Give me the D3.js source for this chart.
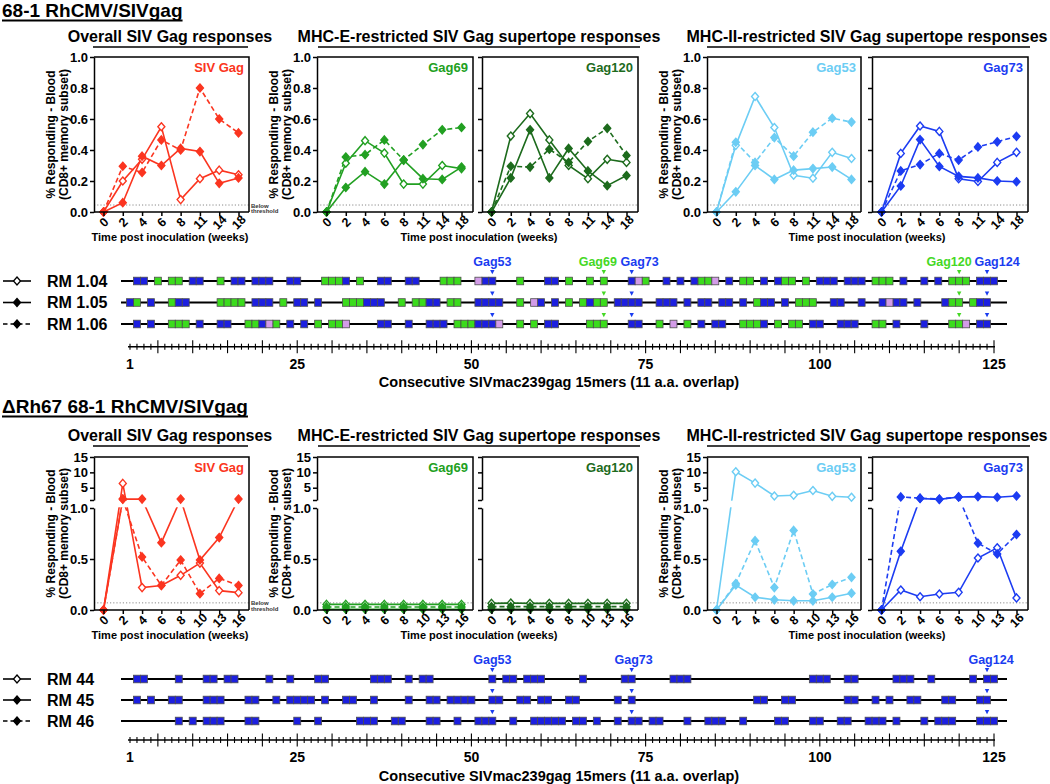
<!DOCTYPE html>
<html>
<head>
<meta charset="utf-8">
<script src="https://cdn.jsdelivr.net/npm/d3@7"></script>
<style>
html,body{margin:0;padding:0;background:#fff;}
svg{display:block;}
svg text{font-family:"Liberation Sans",Arial,Helvetica,sans-serif;font-weight:bold;}
</style>
</head>
<body>
<svg id="chart" width="1050" height="784"></svg>
<script>
// ================= DATA =================
const weeksTop = ["0","2","4","6","8","11","14","18"];
const weeksBottom = ["0","2","4","6","8","10","13","16"];
const animalsTop = ["RM 1.04","RM 1.05","RM 1.06"];
const animalsBottom = ["RM 44","RM 45","RM 46"];
const topYTicks = [0,0.2,0.4,0.6,0.8,1.0];
const bottomYTicksLow = [0,0.5,1.0];
const bottomYTicksHigh = [1,5,10,15];
const peptideLabels = [1,25,50,75,100,125];

// 68-1 RhCMV/SIVgag : RM 1.04 (open), RM 1.05 (filled), RM 1.06 (filled, dashed)
const topSIVGag_RM104 = [0,0.20,0.34,0.55,0.08,0.215,0.27,0.24];
const topSIVGag_RM105 = [0,0.06,0.36,0.30,0.41,0.39,0.185,0.22];
const topSIVGag_RM106 = [0,0.295,0.255,0.465,0.40,0.80,0.60,0.51];
const topGag69_RM104 = [0,0.315,0.46,0.38,0.18,0.18,0.30,0.28];
const topGag69_RM105 = [0,0.158,0.26,0.18,0.335,0.215,0.21,0.29];
const topGag69_RM106 = [0,0.355,0.37,0.465,0.335,0.435,0.53,0.545];
const topGag120_RM104 = [0,0.49,0.635,0.465,0.30,0.215,0.34,0.32];
const topGag120_RM105 = [0,0.22,0.53,0.22,0.41,0.265,0.17,0.235];
const topGag120_RM106 = [0,0.295,0.29,0.405,0.32,0.455,0.54,0.365];
const topGag53_RM104 = [0,0.43,0.745,0.545,0.237,0.218,0.385,0.345];
const topGag53_RM105 = [0,0.13,0.30,0.21,0.27,0.28,0.29,0.21];
const topGag53_RM106 = [0,0.45,0.32,0.48,0.36,0.515,0.605,0.58];
const topGag73_RM104 = [0,0.378,0.555,0.52,0.215,0.197,0.32,0.385];
const topGag73_RM105 = [0,0.168,0.467,0.294,0.23,0.22,0.20,0.195];
const topGag73_RM106 = [0,0.265,0.306,0.378,0.335,0.42,0.453,0.488];

// ΔRh67 68-1 RhCMV/SIVgag : RM 44 (open), RM 45 (filled), RM 46 (filled, dashed)
const botSIVGag_RM44 = [0,6.4,0.22,0.24,0.34,0.46,0.19,0.17];
const botSIVGag_RM45 = [0,1.3,1.3,0.66,1.3,0.49,0.71,1.3];
const botSIVGag_RM46 = [0,1.3,0.52,0.24,0.49,0.16,0.31,0.24];
const botGag69_RM44 = [0.055,0.055,0.055,0.055,0.055,0.055,0.055,0.055];
const botGag69_RM45 = [0.008,0.008,0.008,0.008,0.008,0.008,0.008,0.008];
const botGag69_RM46 = [0.03,0.03,0.03,0.03,0.03,0.03,0.03,0.03];
const botGag120_RM44 = [0.065,0.068,0.065,0.065,0.065,0.065,0.065,0.065];
const botGag120_RM45 = [0.008,0.008,0.008,0.008,0.008,0.008,0.008,0.008];
const botGag120_RM46 = [0.033,0.033,0.033,0.033,0.033,0.033,0.033,0.033];
const botGag53_RM44 = [0,10.2,6.5,2.3,2.55,4.1,2.2,1.9];
const botGag53_RM45 = [0,0.245,0.125,0.10,0.09,0.09,0.125,0.165];
const botGag53_RM46 = [0,0.26,0.68,0.22,0.78,0.157,0.25,0.32];
const botGag73_RM44 = [0,0.196,0.13,0.157,0.173,0.51,0.61,0.118];
const botGag73_RM45 = [0,0.575,1.5,1.2,2.0,2.1,1.9,2.3];
const botGag73_RM46 = [0,2.0,1.6,1.3,2.0,0.655,0.55,0.74];

// peptide maps (positive 15mer peptide numbers)
const mapTop_RM104_green = [5,7,8,14,29,30,31,34,46,47,48,57,64,67,69,75,83,84,89,90,95,96,98,108,109,110,119,120,121];
const mapTop_RM104_blue  = [2,3,10,11,16,17,19,20,21,24,25,32,37,38,41,42,52,53,61,62,73,78,80,82,87,92,94,100,101,102,104,105,106,112,115,117,123,124,125];
const mapTop_RM104_lilac = [51,74,85];
const mapTop_RM105_green = [2,7,14,15,16,17,23,32,33,34,40,42,43,47,48,57,64,66,68,69,91,97,98,99,119,120,122];
const mapTop_RM105_blue  = [1,4,8,9,19,20,21,25,26,28,35,36,37,44,45,51,52,53,54,60,62,67,71,72,73,74,77,78,79,81,83,84,86,87,89,92,93,95,102,103,106,109,111,112,114,118,123,124];
const mapTop_RM105_lilac = [59,110];
const mapTop_RM106_green = [7,8,9,18,19,22,28,30,31,48,49,50,57,59,67,68,69,77,81,89,90,91,94,96,97,108,109,119,120];
const mapTop_RM106_blue  = [2,4,11,14,15,20,24,26,37,38,41,44,45,46,51,52,53,61,62,73,74,83,85,86,92,99,100,103,104,105,111,115,123,124];
const mapTop_RM106_lilac = [21,32,54,79,121];
const mapBot_RM44_blue = [2,3,8,12,13,15,16,21,24,28,29,36,37,38,41,43,44,53,55,56,58,59,60,66,72,73,79,80,81,99,100,101,104,105,111,112,113,116,122,124,125];
const mapBot_RM45_blue = [2,4,7,8,12,13,14,18,19,22,24,25,26,27,29,32,33,36,41,44,45,47,48,49,50,53,54,57,58,60,61,64,65,71,73,91,92,95,96,104,105,108,110,113,114,118,119,123,124];
const mapBot_RM46_blue = [8,10,12,13,14,18,19,25,28,34,35,36,39,40,44,45,48,51,52,53,56,59,60,61,62,63,65,66,68,71,73,74,76,77,81,84,85,86,89,94,95,99,100,103,104,107,108,109,111,115,117,118,119,123,124,125];
const supertopesTop = [53,69,73,120,124];
const supertopeNamesTop = ["Gag53","Gag69","Gag73","Gag120","Gag124"];
const supertopesBot = [53,73,124];
const supertopeNamesBot = ["Gag53","Gag73","Gag124"];

// ================= STYLE / LAYOUT =================
const C_RED = "#fb3520", C_G69 = "#22a022", C_G120 = "#1d6b1d", C_G53 = "#6ccdf4", C_G73 = "#1c3cf2";
const M_GREEN = "#3bdc1c", M_BLUE = "#1c1fe0", M_LILAC = "#d39ce8", M_EDGE = "#4d4d4d";
const L_BLUE = "#1a3cf0", L_GREEN = "#45d825";
const colorOfSupertope = {Gag53:L_BLUE, Gag69:L_GREEN, Gag73:L_BLUE, Gag120:L_GREEN, Gag124:L_BLUE};
const labelShiftTop = [0,-6,8,-10,10];
const labelShiftBot = [0,2,4];

const svg = d3.select("#chart");
const diamondType = {draw(ctx, size){ const r = Math.sqrt(size)/2; ctx.moveTo(0,-r*1.15); ctx.lineTo(r,0); ctx.lineTo(0,r*1.15); ctx.lineTo(-r,0); ctx.closePath(); }};
const sym = d3.symbol().type(diamondType).size(49);
const styles = [{open:true,dash:null},{open:false,dash:null},{open:false,dash:"5,3"}];

function drawPanel(o) {
  const g = svg.append("g");
  const x = d3.scalePoint().domain(o.weeks).range([o.left + 9.5, o.left + 144.5]);
  let y, parts;
  if (!o.broken) {
    const ys = d3.scaleLinear().domain([0,1]).range([o.bottom, o.top]);
    y = v => ys(v);
    parts = [{scale: ys, ticks: topYTicks, fmt: d3.format(".1f")}];
  } else {
    const low = d3.scaleLinear().domain([0,1]).range([o.bottom, o.bottom - 102]);
    const high = d3.scaleLinear().domain([1,15]).range([o.bottom - 110, o.top]);
    y = v => v <= 1 ? low(v) : high(v);
    parts = [{scale: low, ticks: bottomYTicksLow, fmt: d3.format(".1f")},
             {scale: high, ticks: bottomYTicksHigh, fmt: v => v === 1 ? "" : String(v)}];
  }
  g.append("line").attr("x1", o.left).attr("x2", o.right).attr("y1", y(o.thr)).attr("y2", y(o.thr))
    .attr("stroke", "#8a8a8a").attr("stroke-width", 1).attr("stroke-dasharray", "1.2,2");
  o.series.forEach((vals, k) => {
    g.append("path").datum(vals)
      .attr("d", d3.line().x((d,i) => x(o.weeks[i])).y(d => y(d)))
      .attr("fill","none").attr("stroke", o.color).attr("stroke-width", 1.6)
      .attr("stroke-dasharray", styles[k].dash);
  });
  if (o.broken) {
    g.append("rect").attr("x", o.left + 1).attr("width", o.right - o.left - 2)
      .attr("y", o.bottom - 109.3).attr("height", 6.6).attr("fill", "#fff");
  }
  o.series.forEach((vals, k) => {
    g.append("g").selectAll("path").data(vals).join("path")
      .attr("transform", (d,i) => `translate(${x(o.weeks[i])},${y(d)})`)
      .attr("d", sym)
      .attr("fill", styles[k].open ? "#fff" : o.color)
      .attr("stroke", o.color).attr("stroke-width", 1.4);
  });
  g.append("path").attr("d", `M${o.left},${o.top}H${o.right}V${o.bottom}`)
    .attr("fill","none").attr("stroke","#000").attr("stroke-width",1.5);
  g.append("line").attr("x1", o.left).attr("x2", o.right).attr("y1", o.bottom).attr("y2", o.bottom)
    .attr("stroke","#000").attr("stroke-width",1.5);
  const xa = g.append("g").attr("transform", `translate(0,${o.bottom})`)
    .call(d3.axisBottom(x).tickSize(4).tickSizeOuter(0));
  xa.select(".domain").remove();
  xa.attr("font-size", 12.5).attr("font-family", null);
  xa.selectAll("line").attr("stroke-width", 1.5);
  xa.selectAll("text").attr("y", null).attr("dy", null)
    .attr("transform", "translate(0,10.5) rotate(-45)")
    .attr("text-anchor", "middle").attr("dominant-baseline", "central");
  parts.forEach(p => {
    const ya = g.append("g").attr("transform", `translate(${o.left},0)`)
      .call(d3.axisLeft(p.scale).tickValues(p.ticks).tickSize(4).tickSizeOuter(0).tickPadding(2)
        .tickFormat(o.yLabels ? p.fmt : () => ""));
    ya.attr("font-size", 13).attr("font-family", null);
    ya.select(".domain").attr("stroke-width", 1.5);
    ya.selectAll("line").attr("stroke-width", 1.5);
  });
  if (o.yTitle) {
    const cy = (o.top + o.bottom) / 2;
    g.append("text").attr("transform", `translate(${o.left - 43},${cy}) rotate(-90)`)
      .attr("text-anchor","middle").attr("dominant-baseline","central").attr("font-size",12)
      .text("% Responding - Blood");
    g.append("text").attr("transform", `translate(${o.left - 30},${cy}) rotate(-90)`)
      .attr("text-anchor","middle").attr("dominant-baseline","central").attr("font-size",12)
      .text("(CD8+ memory subset)");
  }
  g.append("text").attr("x", o.right - 5).attr("y", o.top + 15).attr("text-anchor","end")
    .attr("font-size", 13).attr("fill", o.color).text(o.label);
  if (o.below) {
    const ty = y(o.thr);
    g.append("text").attr("x", o.right + 2).attr("y", ty + 2.5).attr("font-size", 6).attr("fill","#333").text("Below");
    g.append("text").attr("x", o.right + 2).attr("y", ty + 8).attr("font-size", 6).attr("fill","#333").text("threshold");
  }
}

const panelX = [
  {left:94, right:249},
  {left:317, right:473},
  {left:482, right:638},
  {left:707, right:861},
  {left:872, right:1028}
];

function sectionHeads(title, titleBase, groupBase, xTitleBase) {
  const t = svg.append("text").attr("x", 2).attr("y", titleBase).attr("font-size", 19).text(title);
  const w = t.node().getComputedTextLength();
  svg.append("line").attr("x1", 2).attr("x2", 2 + w).attr("y1", titleBase + 3.5).attr("y2", titleBase + 3.5)
    .attr("stroke","#000").attr("stroke-width", 1.8);
  const groups = [
    {t:"Overall SIV Gag responses", x0:93, x1:248, cx:170},
    {t:"MHC-E-restricted SIV Gag supertope responses", x0:318, x1:640, cx:479},
    {t:"MHC-II-restricted SIV Gag supertope responses", x0:707, x1:1030, cx:867}
  ];
  groups.forEach(gr => {
    svg.append("text").attr("x", gr.cx).attr("y", groupBase).attr("text-anchor","middle").attr("font-size",16).text(gr.t);
    svg.append("line").attr("x1", gr.x0).attr("x2", gr.x1).attr("y1", groupBase + 5.3).attr("y2", groupBase + 5.3)
      .attr("stroke","#000").attr("stroke-width",1.5);
    svg.append("text").attr("x", gr.cx).attr("y", xTitleBase).attr("text-anchor","middle").attr("font-size",11)
      .text("Time post inoculation (weeks)");
  });
}

// ----- top section -----
sectionHeads("68-1 RhCMV/SIVgag", 17, 41.7, 241);
const topSets = [
  {series:[topSIVGag_RM104, topSIVGag_RM105, topSIVGag_RM106], color:C_RED, label:"SIV Gag"},
  {series:[topGag69_RM104, topGag69_RM105, topGag69_RM106], color:C_G69, label:"Gag69"},
  {series:[topGag120_RM104, topGag120_RM105, topGag120_RM106], color:C_G120, label:"Gag120"},
  {series:[topGag53_RM104, topGag53_RM105, topGag53_RM106], color:C_G53, label:"Gag53"},
  {series:[topGag73_RM104, topGag73_RM105, topGag73_RM106], color:C_G73, label:"Gag73"}
];
topSets.forEach((s, i) => drawPanel(Object.assign({}, panelX[i], s, {
  top:57, bottom:212, weeks:weeksTop, broken:false, thr:0.045,
  yLabels: i !== 2 && i !== 4, yTitle: i !== 2 && i !== 4, below: i === 0
})));

// ----- bottom section -----
sectionHeads("\u0394Rh67 68-1 RhCMV/SIVgag", 413, 440.7, 639);
const botSets = [
  {series:[botSIVGag_RM44, botSIVGag_RM45, botSIVGag_RM46], color:C_RED, label:"SIV Gag"},
  {series:[botGag69_RM44, botGag69_RM45, botGag69_RM46], color:C_G69, label:"Gag69"},
  {series:[botGag120_RM44, botGag120_RM45, botGag120_RM46], color:C_G120, label:"Gag120"},
  {series:[botGag53_RM44, botGag53_RM45, botGag53_RM46], color:C_G53, label:"Gag53"},
  {series:[botGag73_RM44, botGag73_RM45, botGag73_RM46], color:C_G73, label:"Gag73"}
];
botSets.forEach((s, i) => drawPanel(Object.assign({}, panelX[i], s, {
  top:457, bottom:610, weeks:weeksBottom, broken:true, thr:0.07,
  yLabels: i !== 2 && i !== 4, yTitle: i !== 2 && i !== 4, below: i === 0
})));

// ----- peptide maps -----
function drawMap(o) {
  const xp = d3.scaleLinear().domain([1,125]).range([130, 994]);
  const bw = xp(2) - xp(1);
  o.rows.forEach((row, i) => {
    const yy = o.rowY[i];
    svg.append("line").attr("x1",121).attr("x2",1007).attr("y1",yy).attr("y2",yy).attr("stroke","#000").attr("stroke-width",2);
    const items = [];
    (row.green || []).forEach(p => items.push({p, c:M_GREEN}));
    (row.blue || []).forEach(p => items.push({p, c:M_BLUE}));
    (row.lilac || []).forEach(p => items.push({p, c:M_LILAC}));
    svg.append("g").selectAll("rect").data(items).join("rect")
      .attr("x", d => xp(d.p) - bw/2).attr("y", yy - 3.8).attr("width", bw).attr("height", 7.6)
      .attr("fill", d => d.c).attr("stroke", M_EDGE).attr("stroke-width", 0.8);
    svg.append("g").selectAll("path").data(o.marks).join("path")
      .attr("d", (m) => `M${xp(m)-2.2},${yy-11}h4.4l-2.2,4.3z`)
      .attr("fill", (m, j) => colorOfSupertope[o.names[j]]);
    const st = styles[i];
    svg.append("line").attr("x1",3).attr("x2",31).attr("y1",yy).attr("y2",yy).attr("stroke","#000").attr("stroke-width",1.6)
      .attr("stroke-dasharray", st.dash ? "4.5,3" : null);
    svg.append("path").attr("transform", `translate(17,${yy})`).attr("d", sym)
      .attr("fill", st.open ? "#fff" : "#000").attr("stroke","#000").attr("stroke-width",1.3);
    svg.append("text").attr("x",47).attr("y",yy+5.5).attr("font-size",16).text(o.animals[i]);
  });
  svg.append("g").selectAll("text").data(o.marks).join("text")
    .attr("x", (m, j) => xp(m) + o.shift[j]).attr("y", o.rowY[0] - 15.5).attr("text-anchor","middle").attr("font-size",12.5)
    .attr("fill", (m, j) => colorOfSupertope[o.names[j]]).text((m, j) => o.names[j]);
  const ay = o.axisY;
  svg.append("line").attr("x1", xp(1) - 2).attr("x2", xp(125) + 1).attr("y1", ay).attr("y2", ay).attr("stroke","#000").attr("stroke-width",1.5);
  svg.append("g").selectAll("line").data(d3.range(1,126)).join("line")
    .attr("x1", p => xp(p)).attr("x2", p => xp(p))
    .attr("y1", p => ay - (p % 5 === 0 ? 6.5 : 3)).attr("y2", p => ay + (p % 5 === 0 ? 6.5 : 3))
    .attr("stroke","#000").attr("stroke-width",1.1);
  svg.append("g").selectAll("text").data(peptideLabels).join("text")
    .attr("x", p => xp(p)).attr("y", ay + 22).attr("text-anchor","middle").attr("font-size",14).text(p => p);
  svg.append("text").attr("x", 559).attr("y", ay + 40.5).attr("text-anchor","middle").attr("font-size",14.5)
    .text("Consecutive SIVmac239gag 15mers (11 a.a. overlap)");
}

drawMap({
  rowY:[281, 302.5, 324], axisY:346.7, animals:animalsTop, marks:supertopesTop, names:supertopeNamesTop, shift:labelShiftTop,
  rows:[
    {green:mapTop_RM104_green, blue:mapTop_RM104_blue, lilac:mapTop_RM104_lilac},
    {green:mapTop_RM105_green, blue:mapTop_RM105_blue, lilac:mapTop_RM105_lilac},
    {green:mapTop_RM106_green, blue:mapTop_RM106_blue, lilac:mapTop_RM106_lilac}
  ]
});
drawMap({
  rowY:[679, 700, 721], axisY:740, animals:animalsBottom, marks:supertopesBot, names:supertopeNamesBot, shift:labelShiftBot,
  rows:[{blue:mapBot_RM44_blue},{blue:mapBot_RM45_blue},{blue:mapBot_RM46_blue}]
});
</script>
</body>
</html>
